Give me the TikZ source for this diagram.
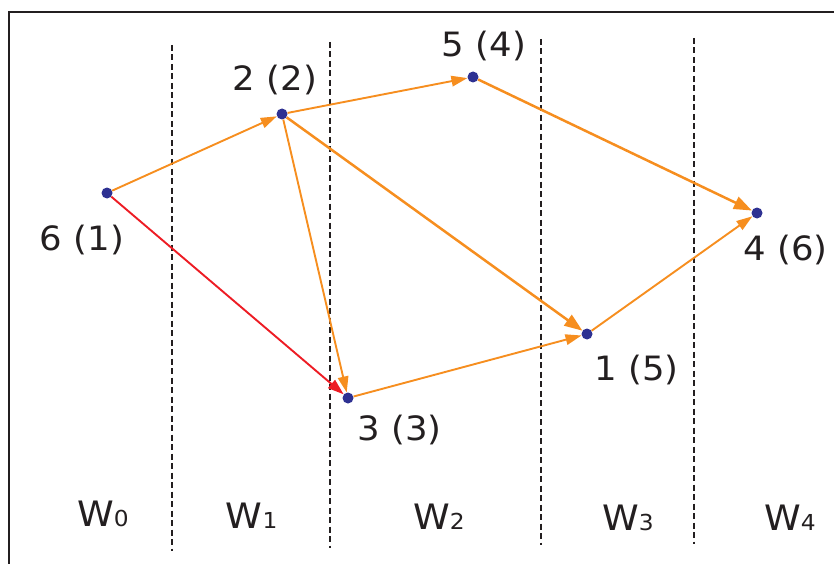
\documentclass[tikz,border=0pt]{standalone}
\usepackage{fontspec}
\setmainfont{DejaVu Sans}
\newfontfamily\labfont[FakeStretch=1.06]{DejaVu Sans}
\usetikzlibrary{arrows.meta}
\definecolor{edgeor}{RGB}{246,142,31}
\definecolor{edgered}{RGB}{237,28,36}
\definecolor{dotblue}{RGB}{46,49,146}
\definecolor{txt}{RGB}{35,31,32}
\tikzset{
  vert/.style={circle,fill=dotblue,inner sep=0pt,minimum size=11pt},
  lab/.style={anchor=base,text=txt,inner sep=0pt,font=\labfont\fontsize{33.5}{40}\selectfont},
  wlab/.style={anchor=base,text=txt,inner sep=0pt,font=\labfont\fontsize{35}{40}\selectfont},
  sep/.style={draw=txt,line width=1.1pt,dash pattern=on 6pt off 3.5pt},
  thin/.style={draw=edgeor,line width=1.9pt,-{Triangle[length=16pt,width=10.5pt]}},
  thick/.style={draw=edgeor,line width=2.5pt,-{Triangle[length=18pt,width=13pt]}},
  redge/.style={draw=edgered,line width=1.9pt,-{Triangle[length=16pt,width=10.5pt]}},
}
\newcommand{\wsub}[1]{{\fontsize{22}{22}\selectfont #1}}
\begin{document}
\begin{tikzpicture}[x=1pt,y=-1pt]
\useasboundingbox (0,0) rectangle (834,564);
\begin{scope}
\clip (0,0) rectangle (834,564);
\draw[line width=2pt,color=txt] (9,580) -- (9,12) -- (850,12);
\end{scope}
% separators
\coordinate (s1a) at (172,45);  \coordinate (s1b) at (172,551);
\coordinate (s2a) at (330,42);  \coordinate (s2b) at (330,548);
\coordinate (s3a) at (541,39);  \coordinate (s3b) at (541,545);
\coordinate (s4a) at (694,38);  \coordinate (s4b) at (694,544);
\draw[sep] (s1a) -- (s1b);
\draw[sep] (s2a) -- (s2b);
\draw[sep] (s3a) -- (s3b);
\draw[sep] (s4a) -- (s4b);
% vertices
\node[vert] (n6) at (107,193) {};
\node[vert] (n2) at (282,114) {};
\node[vert] (n5) at (473,77) {};
\node[vert] (n4) at (757,213) {};
\node[vert] (n1) at (587,334) {};
\node[vert] (n3) at (348,398) {};
% edges
\draw[thin] (n6) -- (n2);
\draw[redge] (n6) -- (n3);
\draw[thin] (n2) -- (n5);
\draw[thin] (n2) -- (n3);
\draw[thick] (n2) -- (n1);
\draw[thick] (n5) -- (n4);
\draw[thin] (n3) -- (n1);
\draw[thin] (n1) -- (n4);
% labels
\node[lab] (l6) at (82,250) {6 (1)};
\node[lab] (l2) at (275,91) {2 (2)};
\node[lab] (l5) at (484,57) {5 (4)};
\node[lab] (l4) at (785.5,260) {4 (6)};
\node[lab] (l1) at (636.5,380) {1 (5)};
\node[lab] (l3) at (399.5,440) {3 (3)};
% stage labels
\node[wlab] (w0) at (103,526.5) {W\wsub{0}};
\node[wlab] (w1) at (251.7,528.7) {W\wsub{1}};
\node[wlab] (w2) at (439,529) {W\wsub{2}};
\node[wlab] (w3) at (628,530.5) {W\wsub{3}};
\node[wlab] (w4) at (790,530.5) {W\wsub{4}};
\end{tikzpicture}
\end{document}
